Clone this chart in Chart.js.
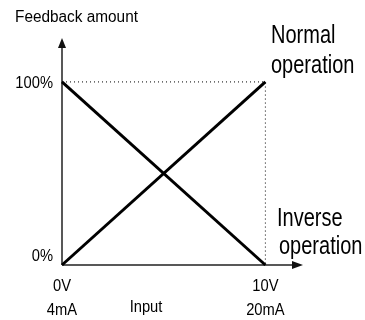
<!DOCTYPE html>
<html>
<head>
<meta charset="utf-8">
<script src="https://cdn.jsdelivr.net/npm/chart.js@4.4.0/dist/chart.umd.min.js"></script>
<style>
  html, body { margin: 0; padding: 0; background: #fff; }
  #wrap { width: 365px; height: 320px; }
</style>
</head>
<body>
<div id="wrap"><canvas id="feedbackChart" width="365" height="320"></canvas></div>
<script>
// Input range (0V/4mA .. 10V/20mA) and feedback amount in %
const inputs = [0, 10];
const normalOperation = [0, 100];
const inverseOperation = [100, 0];
const guideInputs = [0, 10, 10];
const guideLevels = [100, 100, 0];

const xTickValues = [0, 10];
const xTickLabels = [['0V', '4mA'], ['10V', '20mA']];
const yTickValues = [0, 100];
const yTickLabels = ['0%', '100%'];

const yTitle = 'Feedback amount';
const xTitle = 'Input';
const normalLabel = ['Normal', 'operation'];
const inverseLabel = ['Inverse', 'operation'];

function toPoints(xs, ys) {
    return xs.map((x, i) => ({ x: x, y: ys[i] }));
}

const smallFont = "16px 'Liberation Sans', Arial, sans-serif";
const bigFont = "25px 'Liberation Sans', Arial, sans-serif";

// no narrow font installed, so squeeze the text horizontally
function narrowText(ctx, text, x, y, squeeze) {
    ctx.save();
    ctx.translate(x, y);
    ctx.scale(squeeze, 1);
    ctx.fillText(text, 0, 0);
    ctx.restore();
}

// Axes with arrowheads plus all labels
const diagramPlugin = {
    id: 'diagram',
    beforeDatasetsDraw(chart) {
        const ctx = chart.ctx;
        const a = chart.chartArea;
        const x0 = chart.scales.x.getPixelForValue(0);
        const y0 = chart.scales.y.getPixelForValue(0);
        ctx.save();
        ctx.strokeStyle = '#222';
        ctx.fillStyle = '#111';
        ctx.lineWidth = 1.5;
        ctx.beginPath();
        ctx.moveTo(x0, y0);
        ctx.lineTo(x0, a.top + 6);
        ctx.moveTo(x0, y0);
        ctx.lineTo(a.right - 6, y0);
        ctx.stroke();
        // up arrow
        ctx.beginPath();
        ctx.moveTo(x0, a.top);
        ctx.lineTo(x0 - 4, a.top + 10);
        ctx.lineTo(x0 + 4, a.top + 10);
        ctx.closePath();
        ctx.fill();
        // right arrow
        ctx.beginPath();
        ctx.moveTo(a.right, y0);
        ctx.lineTo(a.right - 11, y0 - 4);
        ctx.lineTo(a.right - 11, y0 + 4);
        ctx.closePath();
        ctx.fill();
        ctx.restore();
    },
    afterDraw(chart) {
        const ctx = chart.ctx;
        const xs = chart.scales.x;
        const ys = chart.scales.y;
        ctx.save();
        ctx.fillStyle = '#000';
        ctx.font = smallFont;

        ctx.textAlign = 'left';
        narrowText(ctx, yTitle, 15, 22, 0.96);

        ctx.textAlign = 'right';
        yTickValues.forEach((v, i) => {
            const y = ys.getPixelForValue(v);
            narrowText(ctx, yTickLabels[i], 53, v === 0 ? y - 4 : y + 6, 0.92);
        });

        ctx.textAlign = 'center';
        xTickValues.forEach((v, i) => {
            const x = xs.getPixelForValue(v);
            narrowText(ctx, xTickLabels[i][0], x, 291, 0.92);
            narrowText(ctx, xTickLabels[i][1], x, 315, 0.92);
        });
        narrowText(ctx, xTitle, 146, 312, 0.92);

        ctx.font = bigFont;
        ctx.textAlign = 'left';
        narrowText(ctx, normalLabel[0], 271, 43, 0.8);
        narrowText(ctx, normalLabel[1], 271, 73, 0.8);
        narrowText(ctx, inverseLabel[0], 277, 226, 0.8);
        narrowText(ctx, inverseLabel[1], 279, 254, 0.8);
        ctx.restore();
    }
};

new Chart(document.getElementById('feedbackChart'), {
    type: 'line',
    data: {
        datasets: [{
            data: toPoints(guideInputs, guideLevels),
            borderColor: '#000',
            borderWidth: 1,
            borderDash: [1, 3],
            pointRadius: 0,
            clip: false
        }, {
            label: 'Normal operation',
            data: toPoints(inputs, normalOperation),
            borderColor: '#000',
            borderWidth: 3,
            pointRadius: 0,
            clip: false
        }, {
            label: 'Inverse operation',
            data: toPoints(inputs, inverseOperation),
            borderColor: '#000',
            borderWidth: 3,
            pointRadius: 0,
            clip: false
        }]
    },
    options: {
        responsive: false,
        animation: false,
        layout: { padding: { left: 62, top: 38, right: 62, bottom: 55 } },
        plugins: {
            legend: { display: false },
            tooltip: { enabled: false }
        },
        scales: {
            x: { type: 'linear', min: 0, max: 11.85, display: false },
            y: { type: 'linear', min: 0, max: 124, display: false }
        }
    },
    plugins: [diagramPlugin]
});
</script>
</body>
</html>
